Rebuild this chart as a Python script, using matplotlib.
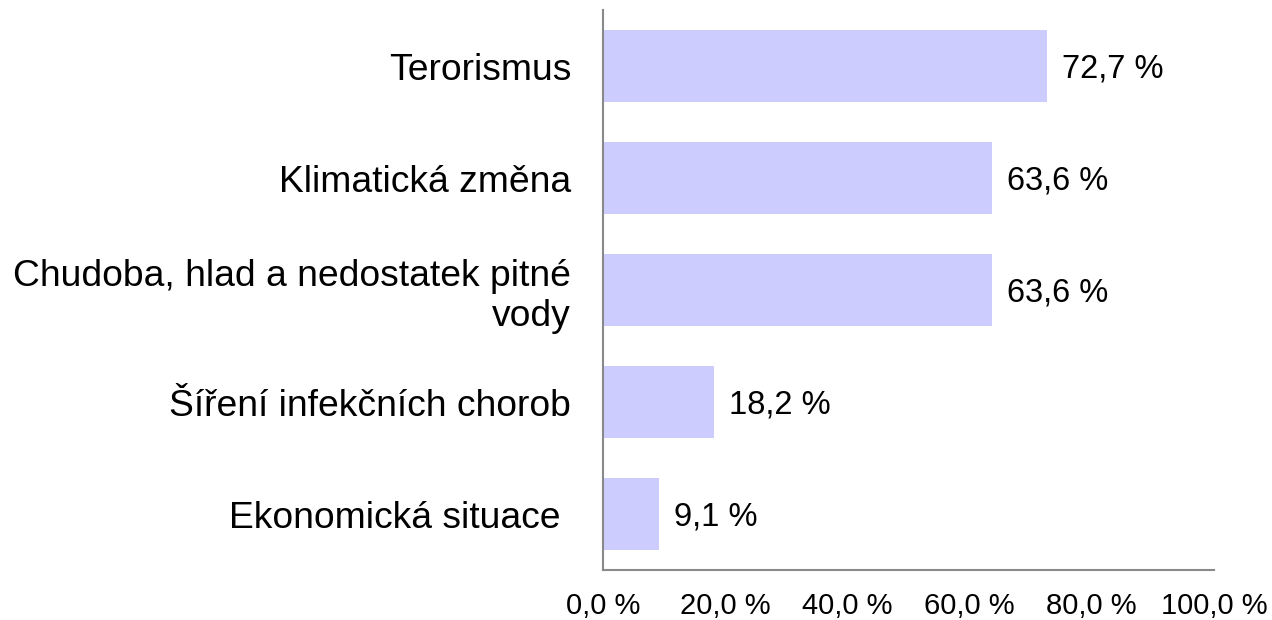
import matplotlib
matplotlib.use("Agg")
import matplotlib.pyplot as plt
from matplotlib.ticker import FuncFormatter

plt.rcParams['font.family'] = ['Liberation Sans', 'DejaVu Sans']

categories = ["Terorismus", "Klimatická změna", "Chudoba, hlad a nedostatek pitné\nvody",
              "Šíření infekčních chorob", "Ekonomická situace "]
values = [72.7, 63.6, 63.6, 18.2, 9.1]
ticks = [0, 20, 40, 60, 80, 100]

fig = plt.figure(figsize=(12.72, 6.2), dpi=100)
ax = fig.add_axes([603/1272, 1-570/620, (1214-603)/1272, 560/620])

ypos = list(range(len(categories)))
ax.barh(ypos, values, height=0.65, color="#CCCCFF")
ax.set_ylim(len(categories)-0.5, -0.5)
ax.set_xlim(0, 100)
ax.set_yticks(ypos)
ax.set_yticklabels(categories, fontsize=26.8, ha='right', multialignment='right')
ax.set_xticks(ticks)
ax.xaxis.set_major_formatter(FuncFormatter(lambda v, p: f"{v:.1f}".replace('.', ',') + " %"))
ax.tick_params(axis='x', length=0, pad=16, labelsize=21)
ax.tick_params(axis='y', length=0, pad=23)

for y, v in zip(ypos, values):
    ax.annotate(f"{v:.1f}".replace('.', ',') + " %", (v, y), xytext=(11, 0),
                textcoords='offset points', va='center_baseline', ha='left', fontsize=23.5)

for s in ['top', 'right']:
    ax.spines[s].set_visible(False)
for s in ['left', 'bottom']:
    ax.spines[s].set_color('#898989')
    ax.spines[s].set_linewidth(1.5)

fig.savefig("out.png", dpi=100)
